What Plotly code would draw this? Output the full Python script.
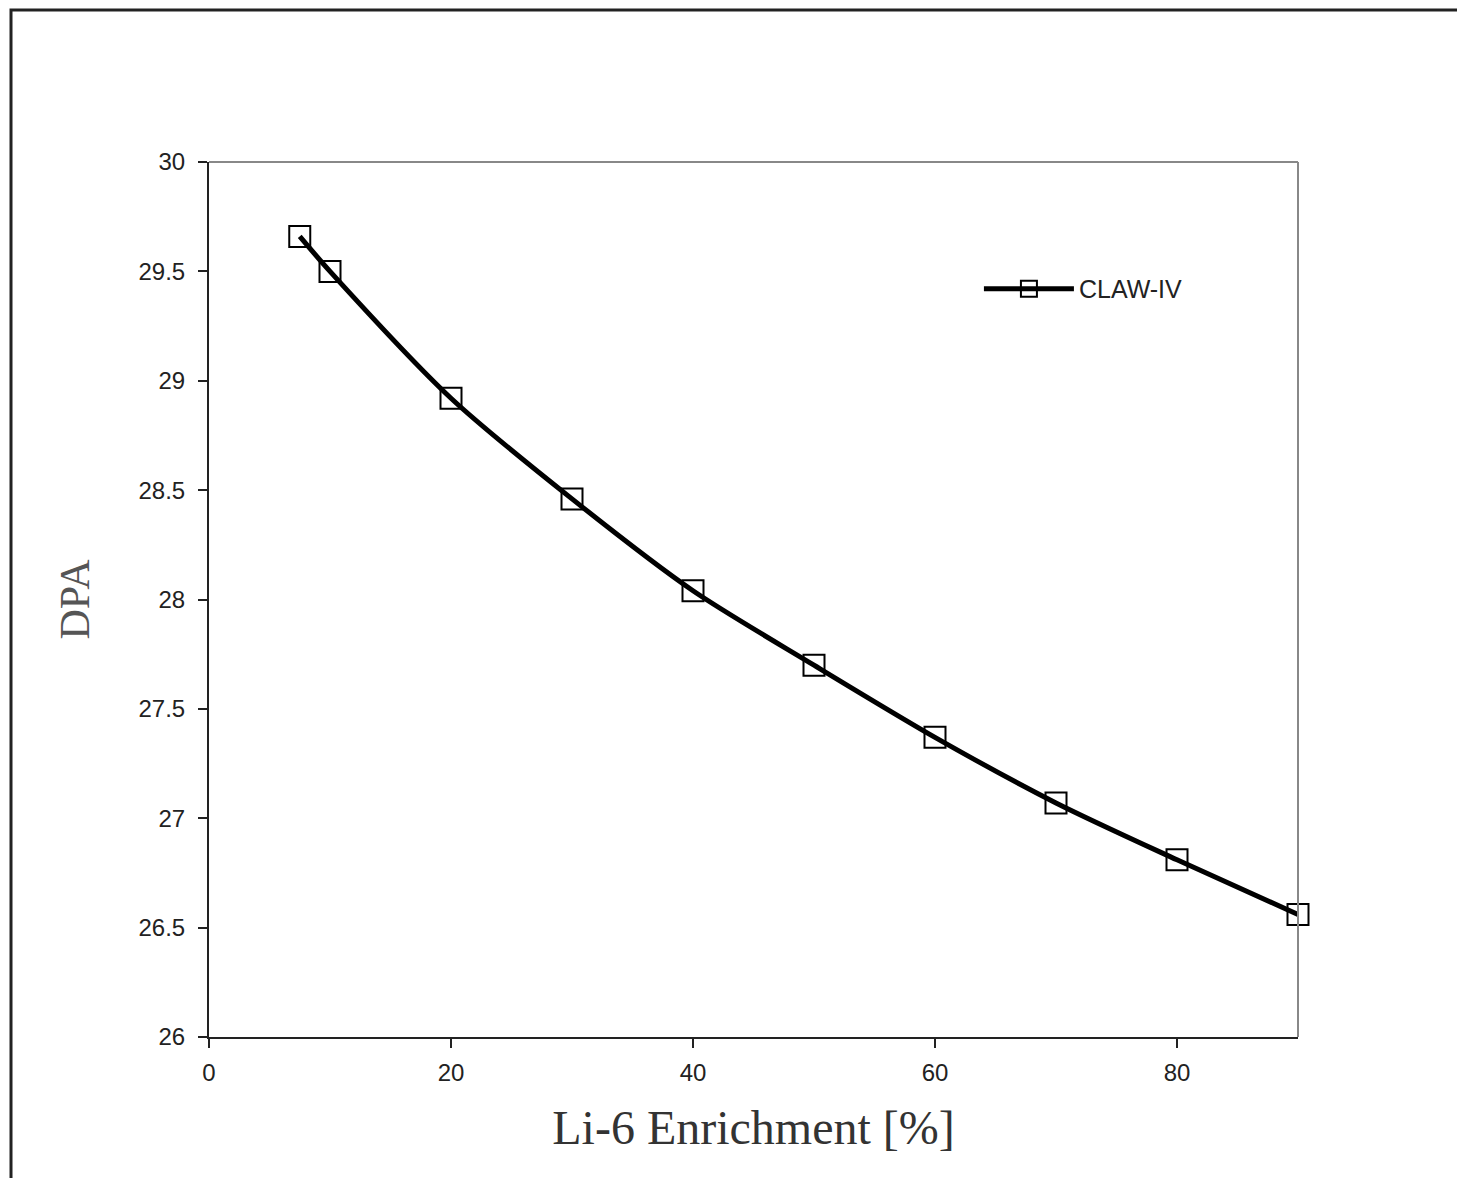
import plotly.graph_objects as go

enrichment = [7.5, 10, 20, 30, 40, 50, 60, 70, 80, 90]
dpa = [29.66, 29.50, 28.92, 28.46, 28.04, 27.70, 27.37, 27.07, 26.81, 26.56]
x_ticks = [0, 20, 40, 60, 80]
y_ticks = [26, 26.5, 27, 27.5, 28, 28.5, 29, 29.5, 30]
y_ticktext = ["26", "26.5", "27", "27.5", "28", "28.5", "29", "29.5", "30"]
series_name = "CLAW-IV"

fig = go.Figure()
fig.add_trace(go.Scatter(
    x=enrichment, y=dpa, name=series_name,
    mode="lines+markers", cliponaxis=False,
    line=dict(color="black", width=5, shape="spline", smoothing=0.8),
    marker=dict(symbol="square-open", size=21, color="black", line=dict(width=2)),
))

fig.update_layout(
    width=1465, height=1178,
    margin=dict(l=201, r=175, t=154, b=149),
    paper_bgcolor="white", plot_bgcolor="white",
    showlegend=True,
    legend=dict(x=0.707, y=0.855, xanchor="left", yanchor="middle",
                bgcolor="rgba(0,0,0,0)", itemwidth=90,
                font=dict(family="Liberation Sans", size=25, color="#222")),
    xaxis=dict(range=[0, 90], tickvals=x_ticks, ticks="outside", ticklen=9,
               tickwidth=2, tickcolor="#222", showline=True, linecolor="#222",
               linewidth=2, mirror=False, showgrid=False, zeroline=False,
               ticklabelstandoff=4,
               tickfont=dict(family="Liberation Sans", size=24, color="#222"),
               title=dict(text="Li-6 Enrichment [%]", standoff=26,
                          font=dict(family="Liberation Serif", size=48, color="#333"))),
    yaxis=dict(range=[26, 30], tickvals=y_ticks, ticktext=y_ticktext,
               ticks="outside", ticklen=9, tickwidth=2, tickcolor="#222",
               showline=True, linecolor="#222", linewidth=2, showgrid=False, zeroline=False,
               ticklabelstandoff=8,
               tickfont=dict(family="Liberation Sans", size=24, color="#222"),
               title=dict(text="DPA", standoff=36,
                          font=dict(family="Liberation Serif", size=42, color="#555"))),
)

# top and right frame lines (grey)
fig.add_shape(type="line", xref="paper", yref="paper", x0=0, x1=1, y0=1, y1=1,
              line=dict(color="#888", width=2))
fig.add_shape(type="line", xref="paper", yref="paper", x0=1, x1=1, y0=0, y1=1,
              line=dict(color="#888", width=2))
# outer border
fig.add_shape(type="rect", xref="paper", yref="paper",
              x0=(11 - 209) / 1089, x1=1.3, y0=-0.2, y1=(1037 - 10) / 875,
              line=dict(color="#222", width=3), layer="below")

fig.write_html("out.html")
